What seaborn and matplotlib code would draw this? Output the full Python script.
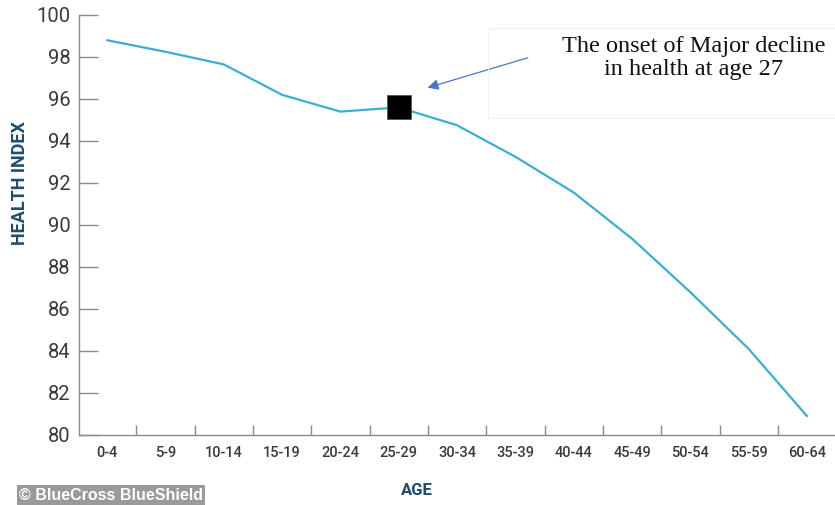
import numpy as np
import matplotlib
matplotlib.use("Agg")
import matplotlib.pyplot as plt
from matplotlib.patches import Rectangle
import seaborn as sns

# Health index by age group
age_groups = ["0-4", "5-9", "10-14", "15-19", "20-24", "25-29", "30-34",
              "35-39", "40-44", "45-49", "50-54", "55-59", "60-64"]
health_index = [98.8, 98.25, 97.65, 96.2, 95.4, 95.6, 94.75,
                93.25, 91.55, 89.35, 86.8, 84.1, 80.9]
y_ticks = [80, 82, 84, 86, 88, 90, 92, 94, 96, 98, 100]
onset_group = "25-29"
onset_label = "The onset of Major decline\nin health at age 27"

sns.set_style("white")
plt.rcParams["font.family"] = ["Roboto", "DejaVu Sans"]

line_color = "#3aaed3"
axis_gray = "#8a8a8a"
label_navy = "#1f4d6b"
tick_text = "#3a3a3a"

fig = plt.figure(figsize=(8.35, 5.05), dpi=100)
ax = fig.add_axes([79 / 835, 70 / 505, 756 / 835, 420 / 505])

pos = np.arange(len(age_groups))
sns.lineplot(x=pos, y=health_index, ax=ax, color=line_color, linewidth=1.6)

# highlighted onset point
i_on = age_groups.index(onset_group)
sns.scatterplot(x=[pos[i_on]], y=[health_index[i_on]], ax=ax, marker="s",
                s=300, color="black", edgecolor="#555555", linewidth=0.6,
                zorder=5, legend=False)

ax.set_xlim(-0.48, 12.48)
ax.set_ylim(80, 100)

# y axis: inward ticks on the left spine
ax.set_yticks(y_ticks)
ax.tick_params(axis="y", direction="in", length=13.5, width=1, color=axis_gray,
               pad=6, labelsize=14.5, labelcolor=tick_text, left=True)

# x axis: boundary ticks between groups, labels centered on groups
ax.set_xticks(pos[:-1] + 0.5)
ax.set_xticklabels([])
ax.set_xticks(pos, minor=True)
ax.set_xticklabels(age_groups, minor=True)
ax.tick_params(axis="x", which="major", direction="in", length=7.5, width=1,
               color=axis_gray, bottom=True)
ax.tick_params(axis="x", which="minor", length=0, pad=8, labelsize=10.5,
               labelcolor=tick_text)
for t in ax.get_xticklabels(minor=True):
    t.set_fontweight("medium")

for side in ["top", "right"]:
    ax.spines[side].set_visible(False)
for side in ["left", "bottom"]:
    ax.spines[side].set_color(axis_gray)
    ax.spines[side].set_linewidth(1.0)

ax.set_ylabel("HEALTH INDEX", fontsize=13, fontweight="bold", color=label_navy)
ax.yaxis.set_label_coords(-0.066, 0.6)
ax.set_xlabel("AGE", fontsize=12, fontweight="bold", color=label_navy)
ax.xaxis.set_label_coords((417 - 79) / 756, -0.115)

# annotation box and arrow
fig.patches.append(Rectangle((488 / 835, 1 - 118 / 505), 0.42, 90 / 505,
                             transform=fig.transFigure, fill=False,
                             edgecolor="#f1f1f1", linewidth=0.8))
fig.text(694 / 835, 1 - 58 / 505, onset_label, ha="center", va="center",
         fontsize=17.5, family="Liberation Serif", color="#111111",
         linespacing=1.1)
ax.annotate("", xy=(5.45, 96.5), xytext=(7.26, 98.0),
            arrowprops=dict(arrowstyle="-|>", color="#4a78c8", lw=0.9,
                            mutation_scale=16))

# source credit
fig.text(19 / 835, 1 - 495 / 505, "© BlueCross BlueShield", ha="left",
         va="center", fontsize=11.5, fontweight="bold", color="white",
         family="Liberation Sans",
         bbox=dict(boxstyle="square,pad=0.15", facecolor="#9a9a9a",
                   edgecolor="none"))

fig.savefig("out.png", dpi=100)
